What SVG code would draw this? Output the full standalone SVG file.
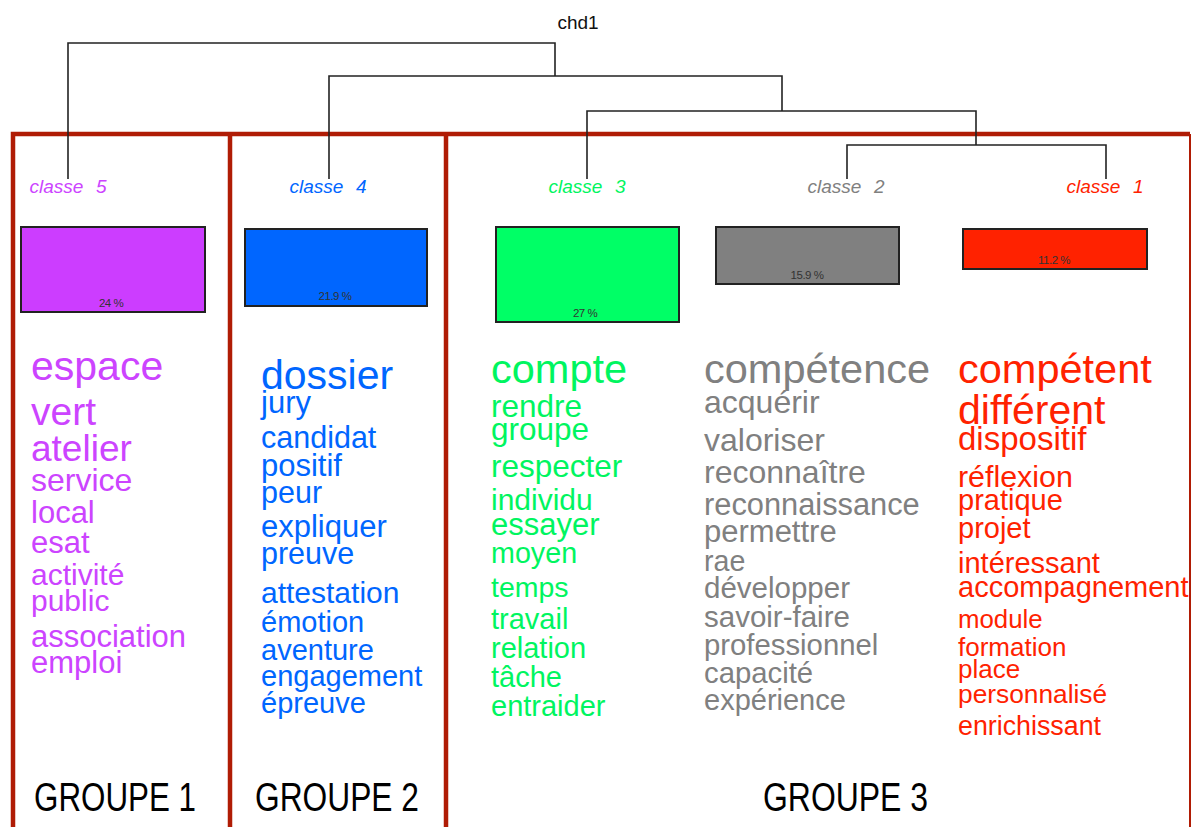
<svg xmlns="http://www.w3.org/2000/svg" width="1193" height="827" viewBox="0 0 1193 827">
<style>
text{font-family:"Liberation Sans",Arial,sans-serif}
.tree{fill:none;stroke:#222;stroke-width:1.6}
.frame{stroke:#B01C05;stroke-width:4.5;fill:none}
.cl{font-size:19px;font-style:italic;text-anchor:middle;white-space:pre;word-spacing:1px}
.bar{stroke:#222;stroke-width:2}
.pct{font-size:11.5px;text-anchor:middle;fill:#333;letter-spacing:-0.5px}
.grp{font-size:40px;fill:#000}
.c5{fill:#CC44FF}.c4{fill:#0066FF}.c3{fill:#00F560}.c2{fill:#808080}.c1{fill:#FF2200}
</style>
<rect width="1193" height="827" fill="#fff"/>
<g id="frames">
<path class="frame" d="M13,827 V134 H1190"/>
<line class="frame" x1="230" y1="134" x2="230" y2="827"/>
<line class="frame" x1="446" y1="134" x2="446" y2="827"/>
<line x1="1190" y1="134" x2="1190" y2="827" stroke="#B01C05" stroke-width="2"/>
</g>
<g id="connectors">
<text x="578" y="29" font-size="19" text-anchor="middle" fill="#111">chd1</text>
<path class="tree" d="M68,179 V43 H555 V76"/>
<path class="tree" d="M329,179 V76 H782 V111"/>
<path class="tree" d="M587,179 V111 H976 V145"/>
<path class="tree" d="M847,179 V145 H1106 V179"/>
</g>
<g id="classe5">
<text class="cl c5" x="68" y="193">classe  5</text>
<rect class="bar" x="21" y="227" width="184" height="85" fill="#CC3DFF"/>
<text class="pct" x="111" y="307">24 %</text>
<g class="c5">
<text x="31" y="380" font-size="41">espace</text>
<text x="31" y="425" font-size="39">vert</text>
<text x="31" y="461" font-size="37">atelier</text>
<text x="31" y="491" font-size="32">service</text>
<text x="31" y="523" font-size="31">local</text>
<text x="31" y="553" font-size="31">esat</text>
<text x="31" y="585" font-size="30">activité</text>
<text x="31" y="611" font-size="30">public</text>
<text x="31" y="647" font-size="31">association</text>
<text x="31" y="673" font-size="31">emploi</text>
</g>
</g>
<g id="classe4">
<text class="cl c4" x="328" y="193">classe  4</text>
<rect class="bar" x="245" y="229" width="182" height="77" fill="#0066FF"/>
<text class="pct" x="335" y="300">21.9 %</text>
<g class="c4">
<text x="261" y="389" font-size="41">dossier</text>
<text x="261" y="413" font-size="31">jury</text>
<text x="261" y="448" font-size="30.5">candidat</text>
<text x="261" y="476" font-size="31">positif</text>
<text x="261" y="503" font-size="30.5">peur</text>
<text x="261" y="537" font-size="31">expliquer</text>
<text x="261" y="564" font-size="30.5">preuve</text>
<text x="261" y="603" font-size="30">attestation</text>
<text x="261" y="632" font-size="29">émotion</text>
<text x="261" y="660" font-size="29">aventure</text>
<text x="261" y="686" font-size="29">engagement</text>
<text x="261" y="713" font-size="29">épreuve</text>
</g>
</g>
<g id="classe3">
<text class="cl c3" x="587" y="193">classe  3</text>
<rect class="bar" x="496" y="227" width="183" height="95" fill="#00FF66"/>
<text class="pct" x="585" y="317">27 %</text>
<g class="c3">
<text x="491" y="383" font-size="41.5">compte</text>
<text x="491" y="417" font-size="31.5">rendre</text>
<text x="491" y="440" font-size="31.5">groupe</text>
<text x="491" y="477" font-size="31.5">respecter</text>
<text x="491" y="510" font-size="30">individu</text>
<text x="491" y="535" font-size="31">essayer</text>
<text x="491" y="563" font-size="28.7">moyen</text>
<text x="491" y="597" font-size="28.5">temps</text>
<text x="491" y="629" font-size="29">travail</text>
<text x="491" y="658" font-size="29">relation</text>
<text x="491" y="687" font-size="29">tâche</text>
<text x="491" y="716" font-size="29">entraider</text>
</g>
</g>
<g id="classe2">
<text class="cl c2" x="846" y="193">classe  2</text>
<rect class="bar" x="716" y="227" width="183" height="57" fill="#808080"/>
<text class="pct" x="807" y="279">15.9 %</text>
<g class="c2">
<text x="704" y="383" font-size="41.5">compétence</text>
<text x="704" y="413" font-size="32">acquérir</text>
<text x="704" y="451" font-size="32">valoriser</text>
<text x="704" y="483" font-size="32">reconnaître</text>
<text x="704" y="515" font-size="30.8">reconnaissance</text>
<text x="704" y="542" font-size="31">permettre</text>
<text x="704" y="571" font-size="28.6">rae</text>
<text x="704" y="598" font-size="29.5">développer</text>
<text x="704" y="627" font-size="29.5">savoir-faire</text>
<text x="704" y="655" font-size="29.3">professionnel</text>
<text x="704" y="683" font-size="29.3">capacité</text>
<text x="704" y="710" font-size="29">expérience</text>
</g>
</g>
<g id="classe1">
<text class="cl c1" x="1105" y="193">classe  1</text>
<rect class="bar" x="963" y="229" width="184" height="40" fill="#FF2200"/>
<text class="pct" x="1054" y="264">11.2 %</text>
<g class="c1">
<text x="958" y="383" font-size="41.5">compétent</text>
<text x="958" y="424" font-size="41">différent</text>
<text x="958" y="450" font-size="33">dispositif</text>
<text x="958" y="487" font-size="30.4">réflexion</text>
<text x="958" y="510" font-size="29">pratique</text>
<text x="958" y="538" font-size="29">projet</text>
<text x="958" y="573" font-size="29">intéressant</text>
<text x="958" y="597" font-size="29">accompagnement</text>
<text x="958" y="628" font-size="25.8">module</text>
<text x="958" y="656" font-size="26">formation</text>
<text x="958" y="678" font-size="26">place</text>
<text x="958" y="703" font-size="26.3">personnalisé</text>
<text x="958" y="735" font-size="26.8">enrichissant</text>
</g>
</g>
<g id="groupes">
<text class="grp" x="34" y="811" textLength="162" lengthAdjust="spacingAndGlyphs">GROUPE 1</text>
<text class="grp" x="255" y="811" textLength="164" lengthAdjust="spacingAndGlyphs">GROUPE 2</text>
<text class="grp" x="763" y="811" textLength="165" lengthAdjust="spacingAndGlyphs">GROUPE 3</text>
</g>
</svg>
